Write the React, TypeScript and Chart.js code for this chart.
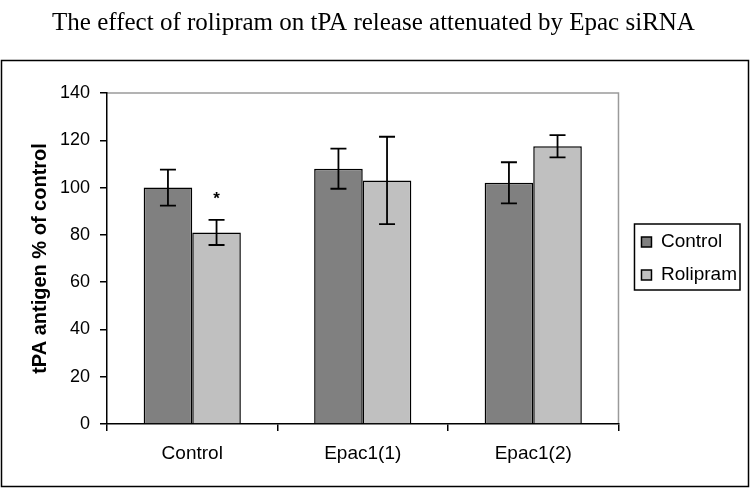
import React, { useEffect, useRef } from 'react';
import { Chart, registerables } from 'chart.js';

Chart.register(...registerables);

const chartTitle = 'The effect of rolipram on tPA release attenuated by Epac siRNA';
const yAxisTitle = 'tPA antigen % of control';
const categories = ['Control', 'Epac1(1)', 'Epac1(2)'];
const seriesNames = ['Control', 'Rolipram'];
const controlValues = [100, 108, 102];
const controlErrors = [7.6, 8.5, 8.7];
const rolipramValues = [81, 103, 117.5];
const rolipramErrors = [5.3, 18.5, 4.7];
const controlMarks = ['', '', ''];
const rolipramMarks = ['*', '', ''];
const yMin = 0;
const yMax = 140;
const yStep = 20;

const SANS = "'Liberation Sans', Arial, sans-serif";
const SERIF = "'Liberation Serif', 'Times New Roman', serif";

const decorPlugin = {
  id: 'decor',
  beforeDraw(chart: any) {
    const ctx = chart.ctx;
    ctx.save();
    ctx.fillStyle = '#ffffff';
    ctx.fillRect(0, 0, chart.width, chart.height);
    // outer frame
    ctx.strokeStyle = '#000000';
    ctx.lineWidth = 1.5;
    ctx.strokeRect(1.5, 60.5, chart.width - 4, chart.height - 62);
    // plot area top/right border
    const a = chart.chartArea;
    ctx.strokeStyle = '#9a9a9a';
    ctx.lineWidth = 1.5;
    ctx.beginPath();
    ctx.moveTo(a.left, a.top);
    ctx.lineTo(a.right, a.top);
    ctx.lineTo(a.right, a.bottom);
    ctx.stroke();
    // legend box
    const lg = chart.legend;
    if (lg && lg.legendHitBoxes && lg.legendHitBoxes.length) {
      const hb = lg.legendHitBoxes;
      let l = Infinity, r = -Infinity, t = Infinity, b = -Infinity;
      hb.forEach((h: any) => {
        l = Math.min(l, h.left);
        r = Math.max(r, h.left + h.width);
        t = Math.min(t, h.top);
        b = Math.max(b, h.top + h.height);
      });
      ctx.strokeStyle = '#000000';
      ctx.lineWidth = 1.5;
      ctx.strokeRect(l - 7, t - 8.5, r - l + 10, b - t + 14);
    }
    ctx.restore();
  },
  afterDatasetsDraw(chart: any) {
    const ctx = chart.ctx;
    const ys = chart.scales.y;
    ctx.save();
    chart.data.datasets.forEach((ds: any, di: number) => {
      const meta = chart.getDatasetMeta(di);
      meta.data.forEach((bar: any, i: number) => {
        const v = ds.data[i];
        const e = ds.errors[i];
        const x = bar.x;
        const yt = ys.getPixelForValue(v + e);
        const yb = ys.getPixelForValue(v - e);
        ctx.strokeStyle = '#000000';
        ctx.lineWidth = 1.8;
        ctx.beginPath();
        ctx.moveTo(x, yt);
        ctx.lineTo(x, yb);
        ctx.moveTo(x - 8, yt);
        ctx.lineTo(x + 8, yt);
        ctx.moveTo(x - 8, yb);
        ctx.lineTo(x + 8, yb);
        ctx.stroke();
        const mark = ds.marks[i];
        if (mark) {
          ctx.fillStyle = '#000000';
          ctx.font = `bold 17px ${SANS}`;
          ctx.textAlign = 'center';
          ctx.textBaseline = 'alphabetic';
          ctx.fillText(mark, x, yt - 16);
        }
      });
    });
    ctx.restore();
  },
};

export default function App() {
  const ref = useRef<HTMLCanvasElement | null>(null);
  useEffect(() => {
    if (!ref.current) return;
    const chart = new Chart(ref.current, {
      type: 'bar',
      data: {
        labels: categories,
        datasets: [
          {
            label: seriesNames[0],
            data: controlValues,
            errors: controlErrors,
            marks: controlMarks,
            backgroundColor: '#808080',
            borderColor: '#000000',
            borderWidth: 1.5,
            categoryPercentage: 0.57,
            barPercentage: 1.0,
          } as any,
          {
            label: seriesNames[1],
            data: rolipramValues,
            errors: rolipramErrors,
            marks: rolipramMarks,
            backgroundColor: '#c0c0c0',
            borderColor: '#000000',
            borderWidth: 1.5,
            categoryPercentage: 0.57,
            barPercentage: 1.0,
          } as any,
        ],
      },
      options: {
        animation: false,
        responsive: false,
        maintainAspectRatio: false,
        layout: { padding: { left: 0, right: 4, top: 0, bottom: 0 } },
        plugins: {
          title: {
            display: true,
            text: chartTitle,
            color: '#000000',
            font: { family: SERIF, size: 25, weight: 'normal', lineHeight: 1.2 },
            padding: { top: 8, bottom: 55 },
          },
          legend: {
            position: 'right',
            align: 'center',
            fullSize: false,
            labels: {
              color: '#000000',
              font: { family: SANS, size: 19 },
              boxWidth: 10,
              boxHeight: 10,
              padding: 14,
            },
          },
          tooltip: { enabled: false },
        },
        scales: {
          x: {
            grid: {
              display: true,
              drawOnChartArea: false,
              drawTicks: true,
              tickLength: 7,
              color: '#000000',
              lineWidth: 1.5,
              offset: true,
            },
            border: { color: '#000000', width: 1.5 },
            ticks: { color: '#000000', font: { family: SANS, size: 19 }, padding: 11 },
            afterFit: (s: any) => {
              s.height = 64;
            },
          },
          y: {
            min: yMin,
            max: yMax,
            ticks: { stepSize: yStep, color: '#000000', font: { family: SANS, size: 18 }, padding: 10 },
            grid: { drawOnChartArea: false, drawTicks: true, tickLength: 7, color: '#000000', lineWidth: 1.5 },
            border: { color: '#000000', width: 1.5 },
            title: {
              display: true,
              text: yAxisTitle,
              color: '#000000',
              font: { family: SANS, size: 20, weight: 'bold' },
              padding: { top: 28, bottom: 0 },
            },
            afterFit: (s: any) => {
              s.width = 107;
            },
          },
          yR: {
            position: 'right',
            display: true,
            grid: { display: false },
            ticks: { display: false },
            border: { display: false },
            afterFit: (s: any) => {
              s.width = 9;
            },
          },
        },
      } as any,
      plugins: [decorPlugin],
    });
    return () => chart.destroy();
  }, []);
  return (
    <div style={{ position: 'absolute', left: 0, top: 0, width: 751, height: 488, background: '#fff' }}>
      <canvas ref={ref} width={751} height={488} style={{ display: 'block' }} />
    </div>
  );
}
